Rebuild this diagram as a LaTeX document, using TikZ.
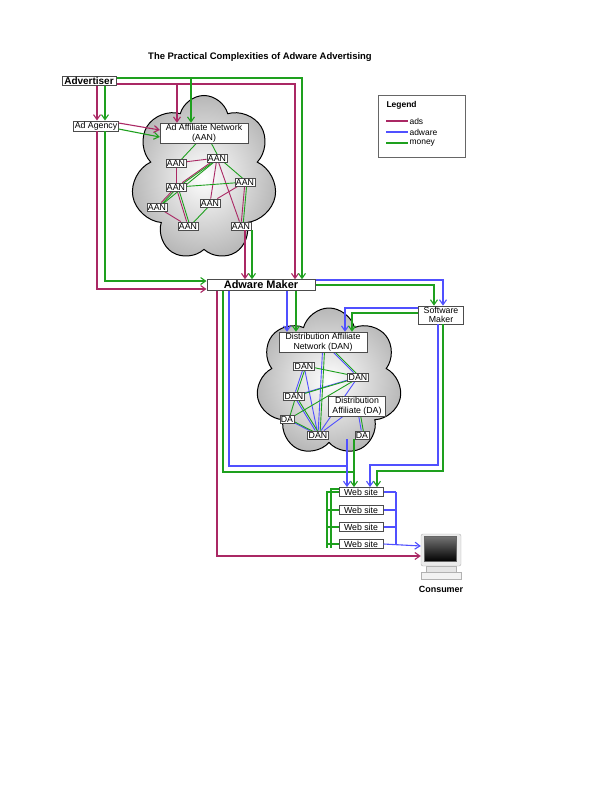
\documentclass[tikz,border=0pt]{standalone}
\usepackage{fontspec}
\setmainfont{Liberation Sans}
\usetikzlibrary{arrows.meta,shapes.symbols}
\definecolor{adscol}{RGB}{170,40,100}
\definecolor{adwarecol}{RGB}{80,80,255}
\definecolor{moneycol}{RGB}{30,160,30}
\begin{document}
\begin{tikzpicture}[x=1bp,y=-1bp,
    box/.style={draw=black!70, fill=white, font=\fontsize{8.8}{9.5}\selectfont, inner sep=1.2pt, align=center},
    bigbox/.style={box, font=\bfseries\fontsize{10}{11}\selectfont, line width=1pt},
    puff/.style={cloud, cloud puffs=7, aspect=1, draw, line width=1pt, inner color=white, outer color=black!28, inner sep=0pt},
    ads/.style={adscol, line width=1.1pt},
    adware/.style={adwarecol, line width=1.1pt},
    money/.style={moneycol, line width=1.1pt},
    tip/.style={-{Straight Barb[length=5pt,width=7pt]}}]

    \useasboundingbox (0,0) rectangle (612,792);

    % Title
    \node[font=\bfseries\fontsize{9.5}{10}\selectfont] (title) at (260,57) {The Practical Complexities of Adware Advertising};

    % Clouds
    \node[puff, minimum width=146bp, minimum height=165bp] (cloudA) at (204,178) {};
    \node[puff, minimum width=146bp, minimum height=148bp] (cloudD) at (329,382) {};

    % Nodes
    \node[bigbox, minimum width=54bp] (adv) at (89,81) {Advertiser};
    \node[box] (agency) at (96,126) {Ad Agency};
    \node[box, minimum width=88bp] (aan) at (204,133) {Ad Affiliate Network\\(AAN)};
    \node[box] (a1) at (176,163) {AAN};
    \node[box] (a2) at (217,158) {AAN};
    \node[box] (a3) at (245,182) {AAN};
    \node[box] (a4) at (176,187) {AAN};
    \node[box] (a5) at (157,207) {AAN};
    \node[box] (a6) at (210,203) {AAN};
    \node[box] (a7) at (188,226) {AAN};
    \node[box] (a8) at (241,226) {AAN};
    \node[bigbox, minimum width=108bp, font=\bfseries\fontsize{11}{12}\selectfont] (maker) at (261,285) {Adware Maker};
    \node[box, minimum width=45bp] (soft) at (441,315) {Software\\Maker};
    \node[box, minimum width=88bp] (dan) at (323,342) {Distribution Affiliate\\Network (DAN)};
    \node[box] (d1) at (304,366) {DAN};
    \node[box] (d2) at (358,377) {DAN};
    \node[box] (d3) at (294,396) {DAN};
    \node[box, minimum width=57bp] (da) at (357,406) {Distribution\\Affiliate (DA)};
    \node[box] (d4) at (287,419) {DA};
    \node[box] (d5) at (318,435) {DAN};
    \node[box] (d6) at (362,435) {DA};

    % Consumer
    \node[draw=black!30, fill=black!8, rounded corners=2pt, minimum width=40bp, minimum height=32bp] (mon) at (441,550) {};
    \node[draw=black!60, top color=black!55, bottom color=black, minimum width=32bp, minimum height=25bp] (scr) at (440,549) {};
    \node[draw=black!30, fill=black!10, minimum width=30bp, minimum height=6bp] (base) at (441,570) {};
    \node[draw=black!30, fill=black!5, minimum width=40bp, minimum height=5bp] (foot) at (441,576) {};
    \node[font=\bfseries\fontsize{9}{10}\selectfont] (cons) at (441,589) {Consumer};

    % Legend
    \node[draw=black!60, line width=0.8pt, minimum width=87bp, minimum height=62bp] (leg) at (421.5,126) {};
    \node[font=\bfseries\fontsize{8.5}{9}\selectfont, anchor=west] (legt) at (383,105) {Legend};
    \foreach \c/\t/\y in {adscol/ads/121,adwarecol/adware/132,moneycol/money/143}{
        \coordinate (l\t) at (386,\y);
        \draw[\c, line width=1.1pt] (l\t) -- ++(22,0) node[right, black, inner sep=1pt, font=\fontsize{8.5}{9}\selectfont] (lt\t) {\t};
    }

    % AAN network
    \foreach \p/\q in {a1/a2,a4/a2,a4/a5,a4/a7,a2/a6,a2/a8,a3/a6,a5/a7,a3/a8,a1/a4}
        \draw[ads, line width=0.9pt] (\p) -- (\q);
    \foreach \p/\q in {aan/a1,aan/a2,a2/a4,a2/a3,a3/a4,a4/a7,a6/a7,a5/a4,a3/a8,a2/a5}
        \draw[money, line width=0.9pt] ([xshift=2bp]\p.center) -- ([xshift=2bp]\q.center);

    % DAN network
    \foreach \p/\q in {dan/d5,dan/d2,d1/d3,d3/d2,d3/d5,d4/d5,d2/d5,da/d5,da/d6,d1/d5}
        \draw[adware, line width=0.9pt] (\p) -- (\q);
    \foreach \p/\q in {dan/d5,dan/d2,d1/d2,d3/d1,d3/d5,d4/d5,d2/d4,d3/d2,da/d6,d4/d3}
        \draw[money, line width=0.9pt] ([xshift=2bp]\p.center) -- ([xshift=2bp]\q.center);

    % redraw inner boxes over lines
    \node[box, minimum width=88bp] at (aan) {Ad Affiliate Network\\(AAN)};
    \foreach \n in {a1,a2,a3,a4,a5,a6,a7,a8} \node[box] at (\n) {AAN};
    \node[box, minimum width=88bp] at (dan) {Distribution Affiliate\\Network (DAN)};
    \foreach \n/\t in {d1/DAN,d2/DAN,d3/DAN,d4/DA,d5/DAN,d6/DA} \node[box] at (\n) {\t};
    \node[box, minimum width=57bp] at (da) {Distribution\\Affiliate (DA)};

    % Web sites
    \foreach \n/\y in {1/492,2/510,3/527,4/544}
        \node[bigbox, font=\fontsize{8.8}{9.5}\selectfont, minimum width=44bp] (w\n) at (361,\y) {Web site};

    % Advertiser flows
    \draw[ads,tip] (adv.south -| 97,0) -- (agency.north -| 97,0);
    \draw[money,tip] (adv.south -| 105,0) -- (agency.north -| 105,0);
    \draw[ads,tip] (adv.east |- 0,84) -| (maker.north -| 295,0);
    \draw[money,tip] (adv.east |- 0,78) -| (maker.north -| 302,0);
    \draw[ads,tip] (177,84) -- (aan.north -| 177,0);
    \draw[money,tip] (191,78) -- (aan.north -| 191,0);
    \draw[ads,tip] (agency.east |- 0,123) -- (aan.west |- 0,130);
    \draw[money,tip] (agency.east |- 0,129) -- (aan.west |- 0,137);
    \draw[ads,tip] (agency.south -| 97,0) |- (maker.west |- 0,289);
    \draw[money,tip] (agency.south -| 105,0) |- (maker.west |- 0,281);
    \draw[ads,tip] (a8.south -| 245,0) -- (maker.north -| 245,0);
    \draw[money,tip] (a8.south -| 252,0) -- (maker.north -| 252,0);

    % Adware maker flows
    \draw[adware,tip] (maker.east |- 0,280) -| (soft.north -| 443,0);
    \draw[money,tip] (maker.east |- 0,285) -| (soft.north -| 434,0);
    \draw[adware,tip] (maker.south -| 287,0) -- (dan.north -| 287,0);
    \draw[money,tip] (maker.south -| 296,0) -- (dan.north -| 296,0);
    \draw[adware,tip] (soft.west |- 0,308) -| (dan.north -| 345,0);
    \draw[money,tip] (soft.west |- 0,313) -| (dan.north -| 352,0);
    \draw[ads,tip] (maker.south -| 217,0) |- (mon.west |- 0,556);
    \draw[money,tip] (maker.south -| 223,0) |- (354,472) -- (w1.north -| 354,0);
    \draw[adware,tip] (maker.south -| 229,0) |- (347,466) -- (w1.north -| 347,0);
    \draw[adware] (d6.south -| 347,0) -- (347,466);
    \draw[money] (d6.south -| 354,0) -- (354,472);
    \draw[adware,tip] (soft.south -| 438,0) |- (370,465) -- (w1.north -| 370,0);
    \draw[money,tip] (soft.south -| 443,0) |- (377,471) -- (w1.north -| 377,0);

    % Web site links
    \draw[money] (w1.west) -| (327,548) coordinate (gb);
    \foreach \n in {2,3,4} \draw[money] (w\n.west) -- (w\n.west -| 327,0);
    \draw[money] (w1.west |- 0,489) -| (331,548);
    \foreach \n in {1,2,3} \draw[adware] (w\n.east) -- (w\n.east -| 396,0);
    \draw[adware] (w1.east -| 396,0) -- (w4.east -| 396,0);
    \draw[adware,tip] (w4.east) -- (mon.west |- 0,546);
\end{tikzpicture}
\end{document}
